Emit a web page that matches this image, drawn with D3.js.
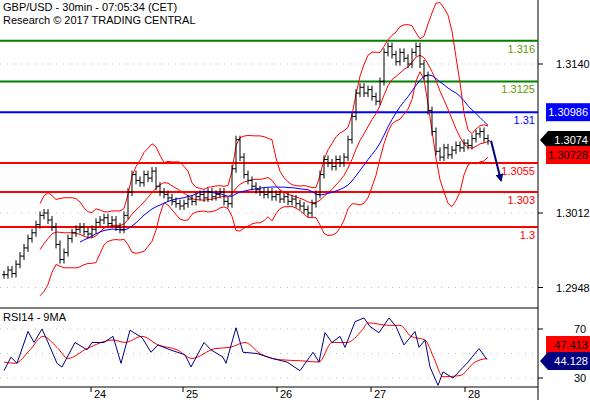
<!DOCTYPE html>
<html><head><meta charset="utf-8">
<script src="https://cdn.jsdelivr.net/npm/d3@7"></script>
<style>body{margin:0;background:#fff}text{font-family:Arial,"Liberation Sans",sans-serif}</style>
</head><body><div id="chart"></div>
<script>
// hourly closes
var closes = [1.2959,1.2963,1.2960,1.2968,1.2975,1.2982,1.2990,1.2995,1.3002,1.3010,1.3012,1.3006,1.3000,1.2985,1.2972,1.2978,1.2990,1.2995,1.2998,1.3000,
  1.2996,1.2994,1.2998,1.3004,1.3006,1.3008,1.3003,1.3006,1.3000,1.2998,1.3010,1.3030,1.3045,1.3040,1.3038,1.3045,1.3042,1.3048,1.3035,1.3030,
  1.3028,1.3025,1.3022,1.3020,1.3018,1.3020,1.3024,1.3022,1.3026,1.3028,1.3025,1.3030,1.3026,1.3028,1.3030,1.3022,1.3020,1.3050,1.3075,1.3060,
  1.3045,1.3040,1.3035,1.3032,1.3030,1.3028,1.3030,1.3026,1.3028,1.3024,1.3026,1.3022,1.3024,1.3020,1.3018,1.3015,1.3012,1.3020,1.3028,1.3045,
  1.3058,1.3055,1.3052,1.3058,1.3055,1.3060,1.3075,1.3095,1.3115,1.3120,1.3115,1.3118,1.3112,1.3108,1.3125,1.3150,1.3155,1.3148,1.3142,1.3150,
  1.3145,1.3140,1.3150,1.3155,1.3140,1.3130,1.3100,1.3082,1.3065,1.3060,1.3068,1.3062,1.3066,1.3070,1.3068,1.3072,1.3070,1.3076,1.3080,1.3082,
  1.3076,1.3074];
// RSI turning points (bar index, value)
var rsiIdx = [0,1.75,3.25,6,7.5,9.5,10.75,13.25,14.5,17.75,20.75,22,25,27.25,29.25,31.5,34.5,36.75,38.5,41.5,45.25,46.75,50,51.75,54.75,
  55.5,58,59.75,63.25,67,70.75,74,77.25,78.75,80.25,82,84,85.25,87.75,90,91.5,93.75,96.25,98,100,102.75,103.75,105.25,106.5,108.5,
  109.75,112.25,116,118.75,120.75];
var rsiVals = [36,47,42,68,59,70,61,42,39,59,53,59,59,64,42,69,63,51,57,53,49,39,59,53,47,42,71,51,50,46,43,36,51,43,67,59,64,55,76,79,
  72,67,79,72,57,68,55,61,39,24,35,30,43,54,45];
var rsiMaIdx = [0,2.75,6.5,9.75,13.25,16,20.75,27.25,30.25,34.5,38.5,43.25,47,52.75,56.5,60.25,64,68.75,74.5,78.75,82,85.75,89.5,91,
  96.25,99,101.75,105.25,107.5,109.75,114,117.75,120.75];
var rsiMaVals = [43,42,53,64,55,46,54,61,59,64,57,53,46,54,55,59,50,45,44,43,59,59,69,75,73,73,64,61,46,31,32,43,46];
var dayLabels = ["24","25","26","27","28"];
var dayPos = [21.75,44.75,68.25,91.75,115.25];
var priceTicks = [1.3140,1.3012,1.2948];
var levels = [
  {v:1.3160,label:"1.316",c:"#008000",t:"#669900"},
  {v:1.3125,label:"1.3125",c:"#008000",t:"#669900"},
  {v:1.30986,label:"1.31",c:"#0000ff",t:"#0000ff"},
  {v:1.3055,label:"1.3055",c:"#ff0000",t:"#ff0000"},
  {v:1.3030,label:"1.303",c:"#ff0000",t:"#ff0000"},
  {v:1.3000,label:"1.3",c:"#ff0000",t:"#ff0000"}];
var rsiTicks = [70,30];

var W = 590, H = 400, axisX = 538;
var svg = d3.select("#chart").append("svg").attr("width", W).attr("height", H);

var x = d3.scaleLinear().domain([0, 1]).range([4, 8]);
var y = d3.scaleLinear().domain([1.3140, 1.3012]).range([64, 213]);
var yr = d3.scaleLinear().domain([70, 30]).range([329, 378]);

// indicators
function sma(a, n) { return a.map(function (d, i) { return i < n - 1 ? null : d3.mean(a.slice(i - n + 1, i + 1)); }); }
var mid = sma(closes, 10);
var bands = closes.map(function (d, i) {
  if (i < 9) return null;
  var s = d3.deviation(closes.slice(i - 9, i + 1));
  return {i: i, m: mid[i], u: mid[i] + 2 * s + 0.0003, l: mid[i] - 2 * s - 0.0003};
}).filter(Boolean);
var ma = sma(closes, 20).map(function (d, i) { return {i: i, v: d}; }).filter(function (d) { return d.v != null; });

// frames
svg.append("line").attr("x1", axisX).attr("x2", axisX).attr("y1", 0).attr("y2", H).attr("stroke", "#000");
svg.append("line").attr("x1", 0).attr("x2", axisX).attr("y1", 308).attr("y2", 308).attr("stroke", "#000");
svg.append("line").attr("x1", 0).attr("x2", axisX).attr("y1", 387).attr("y2", 387).attr("stroke", "#000");

// grid
priceTicks.forEach(function (t) {
  svg.append("line").attr("x1", 0).attr("x2", axisX).attr("y1", y(t)).attr("y2", y(t))
    .attr("stroke", "#bbb").attr("stroke-dasharray", "1,6");
  svg.append("line").attr("x1", axisX).attr("x2", axisX + 5).attr("y1", y(t)).attr("y2", y(t)).attr("stroke", "#000");
  svg.append("text").attr("x", 556).attr("y", y(t) + 4).attr("font-size", 11).text(t.toFixed(4));
});
[70, 50, 30].forEach(function (t) {
  svg.append("line").attr("x1", 0).attr("x2", axisX).attr("y1", yr(t)).attr("y2", yr(t))
    .attr("stroke", "#bbb").attr("stroke-dasharray", "1,6");
});
rsiTicks.forEach(function (t) {
  svg.append("line").attr("x1", axisX).attr("x2", axisX + 5).attr("y1", yr(t)).attr("y2", yr(t)).attr("stroke", "#000");
  svg.append("text").attr("x", 574).attr("y", yr(t) + 4).attr("font-size", 11).text(t);
});

// levels
levels.forEach(function (d) {
  svg.append("line").attr("x1", 0).attr("x2", axisX).attr("y1", y(d.v)).attr("y2", y(d.v)).attr("stroke", d.c).attr("stroke-width", 2);
  svg.append("text").attr("x", 535).attr("y", y(d.v) + 12).attr("text-anchor", "end").attr("font-size", 11)
    .attr("fill", d.t).text(d.label);
});

// bollinger + ma
var line = d3.line().x(function (d) { return x(d.i); });
svg.append("path").datum(bands).attr("fill", "none").attr("stroke", "#ff0000")
  .attr("d", line.y(function (d) { return y(d.u); }));
svg.append("path").datum(bands).attr("fill", "none").attr("stroke", "#ff0000")
  .attr("d", line.y(function (d) { return y(d.l); }));
svg.append("path").datum(bands).attr("fill", "none").attr("stroke", "#ff0000")
  .attr("d", line.y(function (d) { return y(d.m); }));
svg.append("path").datum(ma).attr("fill", "none").attr("stroke", "#0000ff")
  .attr("d", line.y(function (d) { return y(d.v); }));

// bars
var bars = svg.append("g").attr("stroke", "#000");
closes.forEach(function (c, i) {
  var o = i ? closes[i - 1] : c;
  var hi = y(Math.max(o, c)) - 4, lo = y(Math.min(o, c)) + 4;
  bars.append("line").attr("x1", x(i)).attr("x2", x(i)).attr("y1", hi).attr("y2", lo);
  bars.append("line").attr("x1", x(i) - 2).attr("x2", x(i)).attr("y1", y(o)).attr("y2", y(o));
  bars.append("line").attr("x1", x(i)).attr("x2", x(i) + 2).attr("y1", y(c)).attr("y2", y(c));
});

// forecast arrow
var last = closes.length - 1;
svg.append("defs").append("marker").attr("id", "ah").attr("viewBox", "0 0 10 10").attr("refX", 8).attr("refY", 5)
  .attr("markerWidth", 4).attr("markerHeight", 4).attr("orient", "auto")
  .append("path").attr("d", "M0,0L10,5L0,10z").attr("fill", "#000080");
svg.append("line").attr("x1", x(last) + 3).attr("y1", y(closes[last])).attr("x2", x(last) + 13).attr("y2", y(1.3040))
  .attr("stroke", "#000080").attr("stroke-width", 2).attr("marker-end", "url(#ah)");

// price badges
function badge(v, yy, bg, fg, arrow, bx) {
  var g = svg.append("g");
  if (arrow) g.append("path").attr("d", "M" + (axisX + 2) + "," + yy + "l8,-9h50v18h-50z").attr("fill", bg);
  else g.append("rect").attr("x", bx).attr("y", yy - 9).attr("width", W - bx).attr("height", 18).attr("fill", bg);
  g.append("text").attr("x", 588).attr("y", yy + 4).attr("text-anchor", "end").attr("font-size", 11).attr("fill", fg).text(v);
}
badge("1.30986", y(1.30986), "#0000ff", "#fff", false, 546);
badge("1.3074", 140, "#000", "#fff", true);
badge("1.30728", 155, "#ff0000", "#000", false, 546);

// rsi
var rsi = rsiIdx.map(function (d, k) { return {i: d, v: rsiVals[k]}; });
var rsiMa = rsiMaIdx.map(function (d, k) { return {i: d, v: rsiMaVals[k]}; });
var rl = d3.line().x(function (d) { return x(d.i); }).y(function (d) { return yr(d.v); });
svg.append("path").datum(rsiMa).attr("fill", "none").attr("stroke", "#ff0000").attr("d", rl.curve(d3.curveMonotoneX));
svg.append("path").datum(rsi).attr("fill", "none").attr("stroke", "#000080").attr("d", rl.curve(d3.curveLinear));
svg.append("text").attr("x", 3).attr("y", 321).attr("font-size", 11).text("RSI14 - 9MA");
badge("47.413", 345, "#ff0000", "#000", false, 546);
svg.append("path").attr("d", "M" + (axisX + 2) + ",361l8,-9h50v18h-50z").attr("fill", "#000080");
svg.append("text").attr("x", 588).attr("y", 365).attr("text-anchor", "end").attr("font-size", 11).attr("fill", "#fff").text("44.128");

// day axis
dayPos.forEach(function (p, k) {
  svg.append("line").attr("x1", x(p)).attr("x2", x(p)).attr("y1", 387).attr("y2", 392).attr("stroke", "#000");
  svg.append("text").attr("x", x(p) + 3).attr("y", 398).attr("font-size", 11).text(dayLabels[k]);
});

// title
svg.append("text").attr("x", 3).attr("y", 11).attr("font-size", 11).text("GBP/USD - 30min - 07:05:34 (CET)");
svg.append("text").attr("x", 3).attr("y", 24).attr("font-size", 11).text("Research \u00a9 2017 TRADING CENTRAL");
</script></body></html>
